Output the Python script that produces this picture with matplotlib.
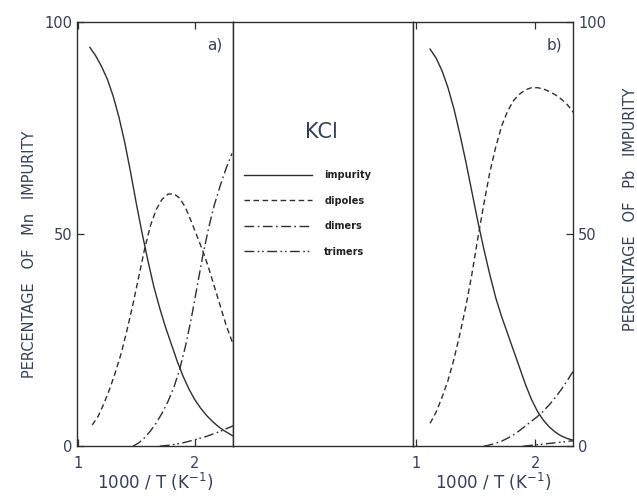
import matplotlib.pyplot as plt

# panel a) Mn in KCl
imp_a_x = [1.10, 1.15, 1.20, 1.25, 1.30, 1.35, 1.40, 1.45, 1.50, 1.55, 1.60, 1.65, 1.70, 1.75, 1.80,
           1.85, 1.90, 1.95, 2.00, 2.05, 2.10, 2.15, 2.20, 2.25, 2.33]
imp_a_y = [94, 92, 89.5, 86.5, 82.5, 77.5, 71.5, 64.5, 57, 50, 43.5, 37.5, 32.5, 28, 24,
           20, 16.5, 13.5, 11, 9, 7.3, 5.9, 4.7, 3.7, 2.4]
dip_a_x = [1.12, 1.17, 1.22, 1.27, 1.32, 1.37, 1.42, 1.47, 1.52, 1.57, 1.62, 1.67, 1.72, 1.77,
           1.82, 1.87, 1.92, 1.97, 2.02, 2.07, 2.12, 2.17, 2.22, 2.27, 2.33]
dip_a_y = [5, 7, 10, 13.5, 17.5, 22, 27.5, 33.5, 40, 46.5, 52, 55.8, 58.2, 59.4,
           59.5, 58.5, 56.3, 53, 49.5, 46, 42, 37.5, 33, 28.5, 24]
dim_a_x = [1.47, 1.52, 1.57, 1.62, 1.67, 1.72, 1.77, 1.82, 1.87, 1.92, 1.97, 2.02, 2.07, 2.12,
           2.17, 2.22, 2.27, 2.32]
dim_a_y = [0, 0.8, 2, 3.6, 5.5, 7.8, 10.5, 13.8, 18, 23.5, 30, 37.5, 45, 51.5,
           57, 61.5, 65.5, 69]
tri_a_x = [1.70, 1.80, 1.90, 2.00, 2.10, 2.20, 2.33]
tri_a_y = [0, 0.3, 0.8, 1.5, 2.3, 3.3, 4.8]

# panel b) Pb in KCl
imp_b_x = [1.12, 1.17, 1.22, 1.27, 1.32, 1.37, 1.42, 1.47, 1.52, 1.57, 1.62, 1.67, 1.72, 1.77,
           1.82, 1.87, 1.92, 1.97, 2.02, 2.07, 2.12, 2.17, 2.22, 2.27, 2.32]
imp_b_y = [93.6, 91.5, 88.5, 84.5, 79.5, 73.5, 67, 60, 53, 46.5, 40.5, 35, 30.5, 26.5,
           22.5, 18.5, 14.5, 11, 8.2, 6.1, 4.5, 3.3, 2.4, 1.8, 1.4]
dip_b_x = [1.12, 1.17, 1.22, 1.27, 1.32, 1.37, 1.42, 1.47, 1.52, 1.57, 1.62, 1.67, 1.72, 1.77,
           1.82, 1.87, 1.92, 1.97, 2.02, 2.07, 2.12, 2.17, 2.22, 2.27, 2.32]
dip_b_y = [5.4, 8, 11.5, 15.5, 20.5, 26.5, 33, 40.5, 49, 57, 64.5, 70.5, 75.5, 79,
           81.5, 83, 84, 84.5, 84.5, 84.2, 83.6, 82.8, 81.8, 80.5, 78.7]
dim_b_x = [1.57, 1.62, 1.67, 1.72, 1.77, 1.82, 1.87, 1.92, 1.97, 2.02, 2.07, 2.12, 2.17, 2.22,
           2.27, 2.32]
dim_b_y = [0, 0.3, 0.7, 1.2, 1.9, 2.7, 3.7, 4.8, 5.9, 7, 8.3, 9.8, 11.5, 13.4,
           15.5, 17.7]
tri_b_x = [1.90, 2.00, 2.10, 2.20, 2.32]
tri_b_y = [0, 0.3, 0.6, 0.9, 1.3]

names = ["impurity", "dipoles", "dimers", "trimers"]
xticks = [1, 2]
yticks = [0, 50, 100]

line_col = '#2e2e2e'
txt_col = '#34405a'
styles = ['-', (0, (4, 2.5)), (0, (7, 2.5, 1.2, 2.5)), (0, (7, 2.5, 1.2, 2, 1.2, 2.5))]

fig = plt.figure(figsize=(6.37, 4.98), dpi=100)
bot, h = 0.104, 0.852
ax_a = fig.add_axes([0.121, bot, 0.245, h])
ax_m = fig.add_axes([0.366, bot, 0.282, h])
ax_b = fig.add_axes([0.648, bot, 0.252, h])

def setup(ax, xlim):
    ax.set_xlim(*xlim)
    ax.set_ylim(0, 100)
    ax.set_xticks(xticks)
    ax.set_yticks(yticks)
    ax.tick_params(direction='in', length=5, width=0.9, colors=line_col,
                   labelcolor=txt_col, labelsize=10.5, top=True)
    ax.tick_params(axis='x', pad=7)
    for s in ax.spines.values():
        s.set_linewidth(1.0)
        s.set_color(line_col)
    ax.set_xlabel("1000 / T (K$^{-1}$)", color=txt_col, fontsize=12, labelpad=0)

setup(ax_a, (0.99, 2.33))
setup(ax_b, (0.975, 2.32))
ax_b.yaxis.tick_right()
ax_b.tick_params(axis='y', right=True, left=False, labelright=True, labelleft=False)
ax_b.tick_params(axis='x', top=True)

series_a = [(imp_a_x, imp_a_y), (dip_a_x, dip_a_y), (dim_a_x, dim_a_y), (tri_a_x, tri_a_y)]
series_b = [(imp_b_x, imp_b_y), (dip_b_x, dip_b_y), (dim_b_x, dim_b_y), (tri_b_x, tri_b_y)]
for (x, y), ls in zip(series_a, styles):
    ax_a.plot(x, y, ls=ls, color=line_col, lw=1.0)
for (x, y), ls in zip(series_b, styles):
    ax_b.plot(x, y, ls=ls, color=line_col, lw=1.0)

ax_a.text(0.88, 0.945, "a)", transform=ax_a.transAxes, fontsize=11, color=txt_col, ha='center', va='center')
ax_b.text(0.88, 0.945, "b)", transform=ax_b.transAxes, fontsize=11, color=txt_col, ha='center', va='center')

# middle box: title + key
ax_m.set_xticks([])
ax_m.set_yticks([])
for s in ax_m.spines.values():
    s.set_linewidth(1.0)
    s.set_color(line_col)
ax_m.set_xlim(0, 1)
ax_m.set_ylim(0, 1)
ax_m.text(0.49, 0.74, "KCl", fontsize=15, color=txt_col, ha='center', va='center')
handles = [plt.Line2D([], [], ls=ls, color=line_col, lw=1.0) for ls in styles]
leg = ax_m.legend(handles, names, loc='upper left', bbox_to_anchor=(0.025, 0.667),
                  frameon=False, fontsize=7, handlelength=7.0, labelspacing=1.6,
                  handletextpad=1.2, borderaxespad=0.3)
for t in leg.get_texts():
    t.set_fontweight('bold')
    t.set_color('#222222')

fig.text(0.047, 0.49, "PERCENTAGE   OF   Mn   IMPURITY", rotation=90, fontsize=10.5,
         color=txt_col, ha='center', va='center')
fig.text(0.99, 0.58, "PERCENTAGE   OF   Pb   IMPURITY", rotation=90, fontsize=10.5,
         color=txt_col, ha='center', va='center')

fig.savefig("out.png", dpi=100)
